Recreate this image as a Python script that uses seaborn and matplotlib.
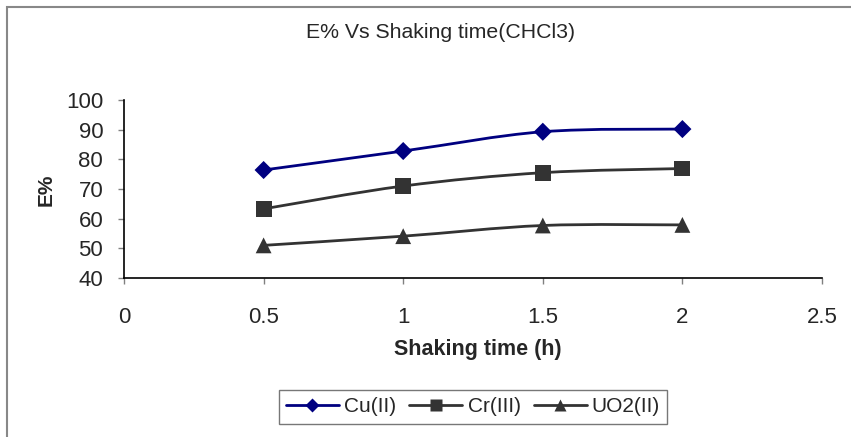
import numpy as np
import pandas as pd
import matplotlib
matplotlib.use("Agg")
import matplotlib.pyplot as plt
from matplotlib.path import Path
from matplotlib.patches import PathPatch, Rectangle
from matplotlib.lines import Line2D
import seaborn as sns

time_h = [0.5, 1.0, 1.5, 2.0]
cu_vals = [76.4, 82.8, 89.3, 90.2]
cr_vals = [63.3, 71.0, 75.5, 76.9]
uo2_vals = [51.0, 54.1, 57.7, 57.9]
series_names = ["Cu(II)", "Cr(III)", "UO2(II)"]
x_ticks = [0, 0.5, 1, 1.5, 2, 2.5]
x_tick_labels = ["0", "0.5", "1", "1.5", "2", "2.5"]
y_ticks = [40, 50, 60, 70, 80, 90, 100]

colors = ["#000080", "#333333", "#333333"]
markers = ["D", "s", "^"]
msizes = [8, 9, 9]

sns.set_theme(style="white")
plt.rcParams['font.family'] = ['Liberation Sans', 'DejaVu Sans']

df = pd.DataFrame({
    "time": time_h * 3,
    "E": cu_vals + cr_vals + uo2_vals,
    "series": [s for s in series_names for _ in time_h],
})

fig = plt.figure(figsize=(8.51, 4.37), dpi=100)
ax = fig.add_axes([124/851, 1-278/437, (822-124)/851, (278-100)/437])

def smooth_path(xs, ys):
    pts = list(zip(xs, ys))
    n = len(pts)
    verts = [pts[0]]
    codes = [Path.MOVETO]
    for i in range(n - 1):
        p0 = pts[i - 1] if i > 0 else pts[i]
        p1 = pts[i]
        p2 = pts[i + 1]
        p3 = pts[i + 2] if i + 2 < n else pts[i + 1]
        c1 = (p1[0] + (p2[0] - p0[0]) / 6, p1[1] + (p2[1] - p0[1]) / 6)
        c2 = (p2[0] - (p3[0] - p1[0]) / 6, p2[1] - (p3[1] - p1[1]) / 6)
        verts += [c1, c2, p2]
        codes += [Path.CURVE4] * 3
    return Path(verts, codes)

for name, c in zip(series_names, colors):
    sub = df[df.series == name]
    ax.add_patch(PathPatch(smooth_path(sub.time.tolist(), sub.E.tolist()),
                           facecolor="none", edgecolor=c, lw=2, zorder=2))

sns.scatterplot(data=df, x="time", y="E", hue="series", style="series",
                palette=dict(zip(series_names, colors)),
                markers=dict(zip(series_names, markers)),
                size="series", sizes=dict(zip(series_names, [85, 130, 130])),
                edgecolor="none", legend=False, ax=ax, zorder=3)

ax.set_xlim(0, 2.5)
ax.set_ylim(40, 100)
ax.set_xticks(x_ticks)
ax.set_xticklabels(x_tick_labels)
ax.set_yticks(y_ticks)
ax.tick_params(axis="x", direction="out", length=4, width=1, color="#808080",
               labelsize=16, pad=17, bottom=True)
ax.tick_params(axis="y", direction="out", length=4, width=1, color="#808080",
               labelsize=16, pad=11, left=True)
for s in ["top", "right"]:
    ax.spines[s].set_visible(False)
for s in ["left", "bottom"]:
    ax.spines[s].set_color("black")
    ax.spines[s].set_linewidth(1.2)
ax.set_xlabel("")
ax.set_ylabel("")

fig.text(46/851, 1-190/437, "E%", rotation=90, fontsize=15, fontweight="bold",
         ha="center", va="center")
fig.text(478/851, 1-349/437, "Shaking time (h)", fontsize=15.5, fontweight="bold",
         ha="center", va="center")
fig.text(441/851, 1-33/437, "E% Vs Shaking time(CHCl3)", fontsize=15.3,
         ha="center", va="center")

handles = [Line2D([0], [0], color=c, lw=2, marker=m, markersize=ms*0.9,
                  markeredgecolor="none")
           for c, m, ms in zip(colors, markers, msizes)]
leg = fig.legend(handles, series_names, loc="center", bbox_to_anchor=(473/851, 1-407/437),
                 ncol=3, frameon=True, fancybox=False, fontsize=15,
                 handlelength=2.55, columnspacing=0.62, handletextpad=0.25,
                 borderpad=0.35, borderaxespad=0)
leg.get_frame().set_edgecolor("#555555")
leg.get_frame().set_linewidth(1)

fig.patches.append(Rectangle((7/851, -0.05), 1.0, (437-7)/437 + 0.05,
                             transform=fig.transFigure, fill=False,
                             edgecolor="#888888", lw=1.5))

fig.savefig("out.png", dpi=100)
